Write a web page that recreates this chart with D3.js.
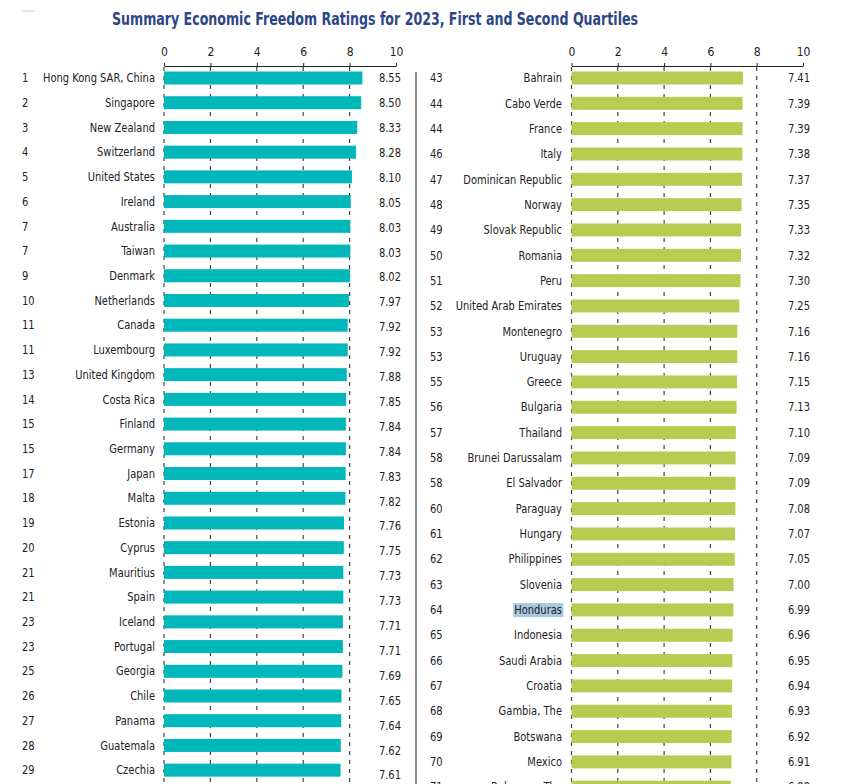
<!DOCTYPE html>
<html><head><meta charset="utf-8">
<script src="https://cdn.jsdelivr.net/npm/d3@7/dist/d3.min.js"></script>
<style>
html,body{margin:0;padding:0;background:#fff;}
svg{display:block;font-family:"DejaVu Sans Condensed","Roboto",sans-serif;}
</style></head>
<body>
<svg id="c" width="853" height="784"></svg>
<script>
const title = "Summary Economic Freedom Ratings for 2023, First and Second Quartiles";
const ticks = [0, 2, 4, 6, 8, 10];
const gridTicks = [0, 2, 4, 6, 8];

const leftRanks = [1,2,3,4,5,6,7,7,9,10,11,11,13,14,15,15,17,18,19,20,21,21,23,23,25,26,27,28,29];
const leftCountries = ["Hong Kong SAR, China","Singapore","New Zealand","Switzerland","United States","Ireland","Australia","Taiwan","Denmark","Netherlands","Canada","Luxembourg","United Kingdom","Costa Rica","Finland","Germany","Japan","Malta","Estonia","Cyprus","Mauritius","Spain","Iceland","Portugal","Georgia","Chile","Panama","Guatemala","Czechia"];
const leftValues = [8.55,8.50,8.33,8.28,8.10,8.05,8.03,8.03,8.02,7.97,7.92,7.92,7.88,7.85,7.84,7.84,7.83,7.82,7.76,7.75,7.73,7.73,7.71,7.71,7.69,7.65,7.64,7.62,7.61];

const rightRanks = [43,44,44,46,47,48,49,50,51,52,53,53,55,56,57,58,58,60,61,62,63,64,65,66,67,68,69,70,71];
const rightCountries = ["Bahrain","Cabo Verde","France","Italy","Dominican Republic","Norway","Slovak Republic","Romania","Peru","United Arab Emirates","Montenegro","Uruguay","Greece","Bulgaria","Thailand","Brunei Darussalam","El Salvador","Paraguay","Hungary","Philippines","Slovenia","Honduras","Indonesia","Saudi Arabia","Croatia","Gambia, The","Botswana","Mexico","Bahamas, The"];
const rightValues = [7.41,7.39,7.39,7.38,7.37,7.35,7.33,7.32,7.30,7.25,7.16,7.16,7.15,7.13,7.10,7.09,7.09,7.08,7.07,7.05,7.00,6.99,6.96,6.95,6.94,6.93,6.92,6.91,6.88];
const highlighted = ["Honduras"];

const svg = d3.select("#c");
const FS = 12;
const SQ = 0.92; // horizontal condensing to mimic a narrow face

function condense(sel, f){
  sel.each(function(){
    const w = this.getComputedTextLength();
    if (w > 0) d3.select(this).attr("textLength", w*f).attr("lengthAdjust","spacingAndGlyphs");
  });
}

svg.append("line").attr("x1",22).attr("x2",35).attr("y1",11).attr("y2",11)
  .attr("stroke","#ccc").attr("stroke-width",1);

svg.append("text").attr("x",112).attr("y",25)
  .attr("font-size",18).attr("font-weight","bold").attr("fill","#2c4686")
  .attr("textLength",526).attr("lengthAdjust","spacingAndGlyphs")
  .text(title);

svg.append("line").attr("x1",416).attr("x2",416).attr("y1",72).attr("y2",784)
  .attr("stroke","#666").attr("stroke-width",1.5);

function panel(cfg){
  const n = cfg.countries.length;
  const idx = d3.range(n);
  const x = d3.scaleLinear().domain([0,10]).range([cfg.x0, cfg.x1]);
  const y = d3.scalePoint().domain(idx).range([78, 78 + (n-1)*cfg.step]);
  const yv = d3.scalePoint().domain(idx).range([78, 78 + (n-1)*cfg.vstep]);
  const g = svg.append("g");

  g.selectAll("line.grid").data(gridTicks).join("line").attr("class","grid")
    .attr("x1", d=>x(d)).attr("x2", d=>x(d))
    .attr("y1", 67).attr("y2", 784)
    .attr("stroke","#444").attr("stroke-width",1.2).attr("stroke-dasharray","4,5");

  const ax = g.append("g").attr("transform","translate(0,66)")
    .call(d3.axisTop(x).tickValues(ticks).tickSize(3).tickSizeOuter(0).tickPadding(7).tickFormat(d3.format("d")));
  ax.select(".domain").attr("stroke","#222").attr("stroke-width",1.2);
  ax.selectAll(".tick line").attr("stroke","#222");
  ax.selectAll(".tick text").attr("font-size",FS).attr("fill","#222")
    .attr("font-family",'"DejaVu Sans Condensed",sans-serif');

  g.selectAll("rect.bar").data(idx).join("rect").attr("class","bar")
    .attr("x", x(0)).attr("y", i=>y(i)-6.5)
    .attr("width", i=>x(cfg.values[i])-x(0)).attr("height",13)
    .attr("fill", cfg.color);

  const hl = g.append("g");
  const names = g.selectAll("text.name").data(idx).join("text").attr("class","name")
    .attr("x", cfg.nameX).attr("y", i=>y(i)).attr("dy","0.35em")
    .attr("text-anchor","end").attr("font-size",FS).attr("fill","#222")
    .text(i=>cfg.countries[i]);
  condense(names, SQ);
  names.filter(i=>highlighted.includes(cfg.countries[i])).each(function(){
    const b = this.getBBox();
    hl.append("rect").attr("x", b.x-1).attr("y", b.y).attr("width", b.width+2).attr("height", b.height)
      .attr("fill","#a9c9e0");
  });

  const ranks = g.selectAll("text.rank").data(idx).join("text").attr("class","rank")
    .attr("x", cfg.rankX).attr("y", i=>y(i)).attr("dy","0.35em")
    .attr("font-size",FS).attr("fill","#222")
    .text(i=>cfg.ranks[i]);
  condense(ranks, SQ);

  const vals = g.selectAll("text.val").data(idx).join("text").attr("class","val")
    .attr("x", cfg.valX).attr("y", i=>yv(i)).attr("dy","0.35em")
    .attr("text-anchor","end").attr("font-size",FS).attr("fill","#222")
    .text(i=>d3.format(".2f")(cfg.values[i]));
  condense(vals, SQ);
}

panel({ranks:leftRanks, countries:leftCountries, values:leftValues, color:"#00b7b9",
  x0:164, x1:396, step:24.72, vstep:24.9, rankX:22, nameX:155, valX:401});
panel({ranks:rightRanks, countries:rightCountries, values:rightValues, color:"#b6cd51",
  x0:571.5, x1:803, step:25.33, vstep:25.33, rankX:430, nameX:562, valX:810});
</script>
</body></html>
